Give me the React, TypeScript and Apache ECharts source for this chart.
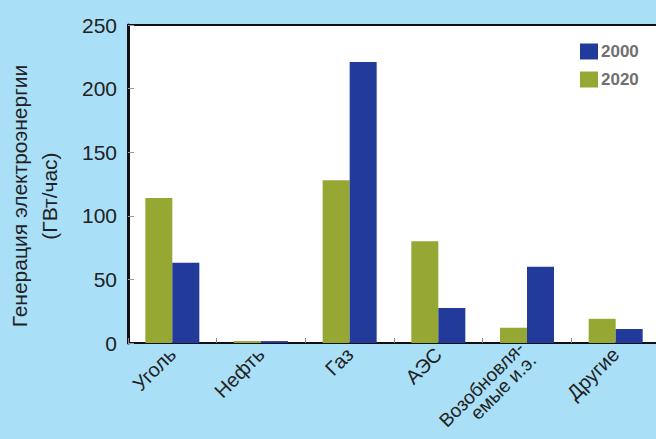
import React, { useEffect, useRef } from "react";
import * as echarts from "echarts";

const categories = ["Уголь", "Нефть", "Газ", "АЭС", "Возобновля-\nемые и.э.", "Другие"];
const values2020 = [114, 1.5, 128, 80, 12, 19];
const values2000 = [63, 1.5, 221, 27.5, 60, 11];
const yTicks = { min: 0, max: 250, interval: 50 };
const yAxisTitle = "Генерация электроэнергии\n(ГВт/час)";

export default function App() {
  const ref = useRef<HTMLDivElement>(null);
  useEffect(() => {
    document.body.style.margin = "0";
    const chart = echarts.init(ref.current!, null, { renderer: "svg" });
    const categoryData = categories.map((c) =>
      c.includes("\n") ? { value: c, textStyle: { lineHeight: 17, fontSize: 19 } } : c
    );
    chart.setOption({
      animation: false,
      backgroundColor: "#aadff8",
      textStyle: { fontFamily: "Liberation Sans, Arial, sans-serif" },
      grid: {
        left: 128,
        top: 25,
        width: 532,
        height: 318,
        outerBoundsMode: "none",
        containLabel: false,
        show: true,
        backgroundColor: "#ffffff",
        borderColor: "#111111",
        borderWidth: 2,
      },
      legend: {
        orient: "vertical",
        left: 575,
        top: 38,
        itemWidth: 18,
        itemHeight: 16,
        itemGap: 11,
        icon: "rect",
        data: ["2000", "2020"],
        textStyle: { fontSize: 17, fontWeight: "bold", color: "#707070", padding: [0, 0, 0, -2] },
      },
      xAxis: {
        type: "category",
        data: categoryData,
        axisLine: { lineStyle: { color: "#111", width: 2 } },
        axisTick: { show: true, inside: true, length: 5, lineStyle: { color: "#888" } },
        axisLabel: { rotate: 45, fontSize: 20, color: "#222", margin: 8, lineHeight: 20 },
      },
      yAxis: {
        type: "value",
        min: yTicks.min,
        max: yTicks.max,
        interval: yTicks.interval,
        splitLine: { show: false },
        axisLine: { show: true, lineStyle: { color: "#111", width: 3 } },
        axisTick: { show: true, inside: true, length: 6, lineStyle: { color: "#999" } },
        axisLabel: { fontSize: 21, color: "#222", margin: 11 },
      },
      graphic: [
        {
          type: "text",
          x: 34,
          y: 196,
          rotation: Math.PI / 2,
          style: {
            text: yAxisTitle,
            textAlign: "center",
            textVerticalAlign: "middle",
            fontSize: 21,
            lineHeight: 30,
            fill: "#222",
            fontFamily: "Liberation Sans, Arial, sans-serif",
          },
        },
      ],
      series: [
        {
          name: "2020",
          type: "bar",
          data: values2020,
          barWidth: 27,
          barGap: "0%",
          itemStyle: { color: "#97a733" },
        },
        {
          name: "2000",
          type: "bar",
          data: values2000,
          barWidth: 27,
          barGap: "0%",
          itemStyle: { color: "#223a9a" },
        },
      ],
    });
    return () => chart.dispose();
  }, []);
  return <div ref={ref} style={{ width: 656, height: 439, position: "absolute", left: 0, top: 0 }} />;
}
